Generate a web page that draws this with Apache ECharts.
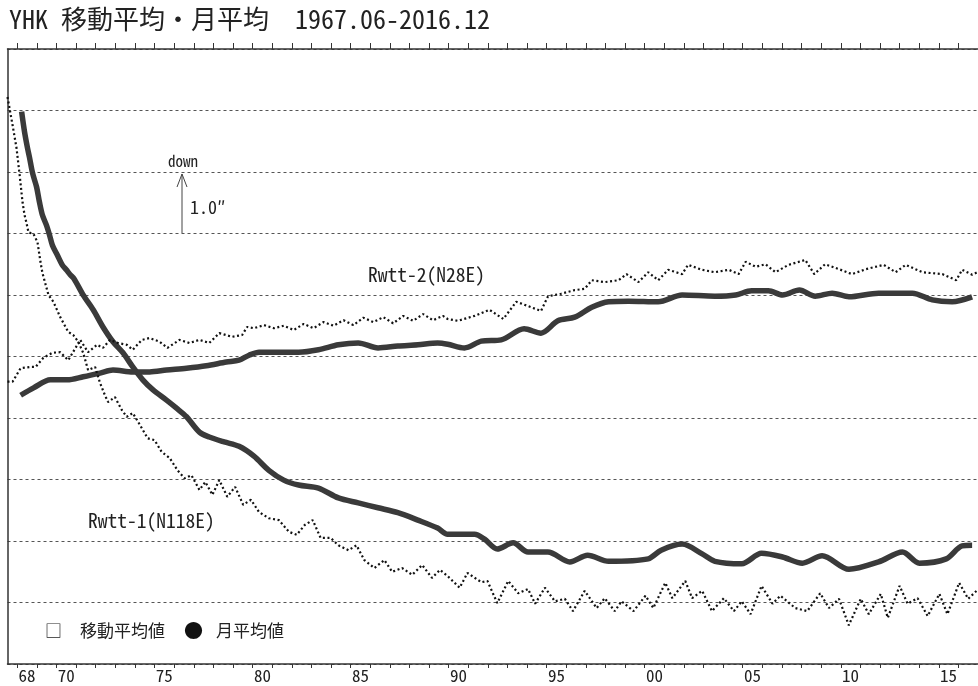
<!DOCTYPE html>
<html>
<head>
<meta charset="utf-8">
<script src="https://cdn.jsdelivr.net/npm/echarts@6/dist/echarts.min.js"></script>
<style>
html,body{margin:0;padding:0;background:#fff;}
#chart{width:978px;height:686px;}
</style>
</head>
<body>
<div id="chart"></div>
<script>
// ---- data (x: decimal year, y: position in arc-seconds, 1 grid step = 1.0") ----
const tickYears = [];
for (let y = 1968; y <= 2017; y++) tickYears.push(y);
const labelYears = [1968, 1970, 1975, 1980, 1985, 1990, 1995, 2000, 2005, 2010, 2015];

const rwtt1Monthly = [
[1967.5,9.22],[1967.76,8.76],[1967.96,8.39],[1968.12,7.95],[1968.27,7.50],[1968.37,7.30],[1968.47,7.17],[1968.57,7.02],[1968.83,6.99],[1969.03,6.86],[1969.18,6.54],[1969.28,6.36],[1969.59,6.00],[1969.84,5.89],[1970.19,5.64],[1970.6,5.40],[1970.85,5.35],[1971.11,5.24],[1971.36,5.06],[1971.61,4.78],[1971.97,4.83],[1972.22,4.57],[1972.47,4.37],[1972.63,4.26],[1972.98,4.34],[1973.33,4.13],[1973.58,4.02],[1973.89,4.08],[1974.25,3.89],[1974.65,3.67],[1975.0,3.64],[1975.36,3.45],[1975.77,3.35],[1976.17,3.15],[1976.53,3.02],[1976.88,3.07],[1977.29,2.83],[1977.59,2.96],[1977.95,2.75],[1978.3,2.99],[1978.71,2.72],[1979.11,2.88],[1979.52,2.59],[1979.92,2.67],[1980.33,2.47],[1980.83,2.37],[1981.34,2.34],[1981.85,2.15],[1982.25,2.10],[1982.66,2.26],[1983.07,2.34],[1983.47,2.05],[1983.98,2.05],[1984.38,1.93],[1984.89,1.85],[1985.3,1.93],[1985.7,1.69],[1986.21,1.56],[1986.72,1.69],[1987.12,1.50],[1987.63,1.56],[1988.14,1.45],[1988.65,1.61],[1989.15,1.40],[1989.56,1.53],[1989.95,1.43],[1990.56,1.24],[1990.96,1.48],[1991.67,1.33],[1991.98,1.35],[1992.48,0.99],[1993.04,1.35],[1993.55,1.15],[1994.05,1.22],[1994.41,0.98],[1994.91,1.24],[1995.42,1.02],[1995.93,1.06],[1996.34,0.86],[1996.94,1.19],[1997.55,0.91],[1997.96,1.07],[1998.47,0.86],[1998.82,1.02],[1999.43,0.86],[2000.04,1.11],[2000.44,0.91],[2001.05,1.32],[2001.41,1.07],[2002.07,1.35],[2002.42,1.07],[2002.93,1.19],[2003.43,0.86],[2004.04,1.07],[2004.55,0.86],[2004.95,1.02],[2005.4,0.81],[2005.96,1.27],[2006.52,0.98],[2006.92,1.11],[2007.68,0.91],[2008.29,0.86],[2008.95,1.15],[2009.4,0.91],[2009.91,1.06],[2010.41,0.63],[2011.02,1.06],[2011.43,0.81],[2012.04,1.14],[2012.4,0.75],[2013.0,1.27],[2013.41,0.98],[2013.92,1.07],[2014.43,0.78],[2015.03,1.14],[2015.44,0.81],[2016.04,1.32],[2016.5,1.06],[2016.96,1.20]
];

const rwtt1Average = [
[1968.22,8.98],[1968.37,8.65],[1968.52,8.39],[1968.62,8.24],[1968.78,7.98],[1968.98,7.76],[1969.13,7.51],[1969.28,7.30],[1969.48,7.14],[1969.64,6.98],[1969.79,6.81],[1970.04,6.65],[1970.29,6.49],[1970.5,6.41],[1970.7,6.33],[1970.9,6.26],[1971.36,6.00],[1971.87,5.76],[1972.37,5.48],[1972.88,5.24],[1973.39,5.06],[1973.89,4.83],[1974.4,4.62],[1974.91,4.46],[1975.61,4.29],[1976.12,4.16],[1976.63,4.02],[1977.29,3.77],[1977.79,3.69],[1978.55,3.61],[1979.31,3.54],[1980.07,3.38],[1980.83,3.15],[1981.59,2.99],[1982.35,2.91],[1983.36,2.86],[1984.38,2.70],[1985.39,2.62],[1986.4,2.54],[1987.41,2.46],[1988.43,2.34],[1989.44,2.21],[1989.95,2.11],[1991.32,2.11],[1991.83,2.03],[1992.48,1.87],[1993.29,1.97],[1994.05,1.82],[1995.06,1.82],[1996.18,1.66],[1997.09,1.77],[1998.16,1.67],[2000.18,1.71],[2000.84,1.85],[2001.91,1.95],[2002.93,1.79],[2003.58,1.67],[2004.95,1.63],[2005.96,1.80],[2007.03,1.74],[2008.04,1.64],[2009.05,1.76],[2010.42,1.54],[2011.93,1.66],[2013.15,1.82],[2014.01,1.64],[2015.38,1.71],[2016.19,1.92],[2016.7,1.93]
];

const rwtt2Monthly = [
[1967.5,4.59],[1967.76,4.59],[1968.17,4.81],[1968.67,4.83],[1968.93,4.83],[1969.33,4.98],[1969.79,5.06],[1970.19,5.07],[1970.6,4.94],[1971.21,5.27],[1971.61,5.07],[1972.07,5.19],[1972.37,5.14],[1972.73,5.27],[1973.13,5.22],[1973.59,5.19],[1973.89,5.11],[1974.35,5.27],[1974.75,5.30],[1975.26,5.24],[1975.66,5.14],[1976.27,5.27],[1976.78,5.22],[1977.29,5.27],[1977.79,5.22],[1978.3,5.38],[1978.96,5.32],[1979.47,5.35],[1979.72,5.48],[1980.07,5.46],[1980.58,5.51],[1981.09,5.46],[1981.59,5.50],[1982.1,5.43],[1982.61,5.53],[1983.11,5.46],[1983.62,5.56],[1984.13,5.50],[1984.64,5.59],[1985.14,5.51],[1985.65,5.63],[1986.16,5.56],[1986.67,5.64],[1987.17,5.54],[1987.68,5.66],[1988.19,5.58],[1988.7,5.69],[1989.2,5.59],[1989.71,5.66],[1989.95,5.61],[1990.46,5.58],[1991.32,5.66],[1992.08,5.76],[1992.79,5.61],[1993.45,5.89],[1994.05,5.82],[1994.71,5.74],[1995.07,5.98],[1995.73,6.02],[1996.43,6.08],[1996.94,6.10],[1997.3,6.24],[1997.96,6.21],[1998.67,6.24],[1999.07,6.34],[1999.68,6.21],[2000.18,6.37],[2000.69,6.24],[2001.2,6.41],[2001.91,6.34],[2002.21,6.49],[2002.92,6.41],[2003.58,6.37],[2004.29,6.41],[2004.79,6.34],[2005.15,6.54],[2005.66,6.46],[2006.16,6.50],[2006.67,6.37],[2007.33,6.49],[2008.19,6.57],[2008.65,6.34],[2009.2,6.50],[2009.91,6.42],[2010.57,6.34],[2011.28,6.42],[2012.19,6.49],[2012.8,6.37],[2013.31,6.49],[2014.17,6.37],[2015.18,6.34],[2015.89,6.24],[2016.19,6.41],[2016.7,6.33],[2016.96,6.37]
];

const rwtt2Average = [
[1968.17,4.37],[1968.83,4.49],[1969.69,4.62],[1970.55,4.62],[1971.36,4.67],[1972.22,4.73],[1972.88,4.78],[1973.89,4.75],[1974.75,4.75],[1975.61,4.78],[1976.63,4.81],[1977.64,4.85],[1978.66,4.91],[1979.31,4.94],[1979.82,5.02],[1980.33,5.07],[1981.34,5.07],[1982.35,5.07],[1983.36,5.11],[1984.38,5.19],[1985.39,5.22],[1986.4,5.14],[1987.41,5.17],[1988.43,5.19],[1989.44,5.22],[1989.95,5.20],[1990.81,5.14],[1991.67,5.25],[1992.68,5.27],[1993.85,5.45],[1994.71,5.38],[1995.57,5.58],[1996.43,5.64],[1997.3,5.80],[1998.16,5.89],[1999.17,5.90],[2000.69,5.89],[2001.91,6.00],[2003.58,5.98],[2004.64,6.00],[2005.45,6.07],[2006.31,6.07],[2007.03,6.00],[2007.89,6.08],[2008.7,5.98],[2009.56,6.03],[2010.42,5.97],[2011.93,6.03],[2013.65,6.03],[2014.67,5.92],[2015.68,5.89],[2016.7,5.97]
];

const titleText = 'YHK 移動平均・月平均\u30001967.06-2016.12';

const chart = echarts.init(document.getElementById('chart'), null, {renderer: 'canvas'});
const axisCol = '#333';
const mono = "'Noto Sans Mono CJK JP','Noto Sans CJK JP','DejaVu Sans Mono',monospace";

function xAxisCfg(pos) {
  return {
    type: 'value', position: pos, min: 1967.5, max: 2017.0,
    axisLine: {show: true, lineStyle: {color: axisCol, width: 1.5}},
    axisTick: {show: true, customValues: tickYears, length: pos === 'top' ? 6 : 4, inside: false, lineStyle: {color: axisCol, width: 1}},
    axisLabel: pos === 'top' ? {show: false} : {
      show: true, customValues: labelYears.map(y => y + 0.5),
      formatter: v => String(Math.floor(v) % 100).padStart(2, '0'),
      color: '#222', fontSize: 17, fontFamily: mono, margin: 3
    },
    splitLine: {show: false}
  };
}

const option = {
  backgroundColor: '#fff',
  animation: false,
  title: {
    text: titleText, left: 4, top: 1,
    textStyle: {fontSize: 26, fontWeight: 'normal', color: '#222', fontFamily: mono}
  },
  grid: {left: 7.5, right: -6.6, top: 49, bottom: 22, containLabel: false},
  xAxis: [xAxisCfg('bottom'), xAxisCfg('top')],
  yAxis: {
    type: 'value', min: 0, max: 10, interval: 1,
    axisLine: {show: true, lineStyle: {color: axisCol, width: 1.5}},
    axisTick: {show: false}, axisLabel: {show: false},
    splitLine: {show: true, lineStyle: {color: '#555', width: 1, type: [3, 3]}}
  },
  series: [
    {name: 'Rwtt-1 移動平均値', type: 'line', data: rwtt1Average, showSymbol: false, smooth: 0.3,
     lineStyle: {color: '#3a3a3a', width: 5.5}, z: 3},
    {name: 'Rwtt-2 移動平均値', type: 'line', data: rwtt2Average, showSymbol: false, smooth: 0.3,
     lineStyle: {color: '#3a3a3a', width: 5.5}, z: 3},
    {name: 'Rwtt-1 月平均値', type: 'line', data: rwtt1Monthly, showSymbol: false,
     lineStyle: {color: '#111', width: 2.2, type: [2, 2.6]}, z: 4},
    {name: 'Rwtt-2 月平均値', type: 'line', data: rwtt2Monthly, showSymbol: false,
     lineStyle: {color: '#111', width: 2.2, type: [2, 2.6]}, z: 4}
  ],
  graphic: [
    {type: 'text', left: 168, top: 154, style: {text: 'down', fontSize: 15, fill: '#222', fontFamily: mono}},
    {type: 'line', shape: {x1: 182, y1: 233, x2: 182, y2: 174}, style: {stroke: '#444', lineWidth: 1}},
    {type: 'polyline', shape: {points: [[177, 187], [182, 174], [187, 187]]}, style: {stroke: '#444', lineWidth: 1, fill: null}},
    {type: 'text', left: 190, top: 198, style: {text: '1.0\u2033', fontSize: 18, fill: '#222', fontFamily: mono}},
    {type: 'text', left: 368, top: 265, style: {text: 'Rwtt-2(N28E)', fontSize: 19.5, fill: '#222', fontFamily: mono}},
    {type: 'text', left: 88, top: 511, style: {text: 'Rwtt-1(N118E)', fontSize: 19.5, fill: '#222', fontFamily: mono}},
    {type: 'text', left: 45, top: 622, style: {text: '□', fontSize: 17, fill: '#222', fontFamily: "'Noto Sans CJK JP',sans-serif"}},
    {type: 'text', left: 80, top: 622, style: {text: '移動平均値', fontSize: 17, fill: '#222', fontFamily: "'Noto Sans CJK JP',sans-serif"}},
    {type: 'text', left: 184, top: 621, style: {text: '●', fontSize: 19, fill: '#111', fontFamily: "'Noto Sans CJK JP',sans-serif"}},
    {type: 'text', left: 216, top: 622, style: {text: '月平均値', fontSize: 17, fill: '#222', fontFamily: "'Noto Sans CJK JP',sans-serif"}}
  ]
};
chart.setOption(option);
</script>
</body>
</html>
